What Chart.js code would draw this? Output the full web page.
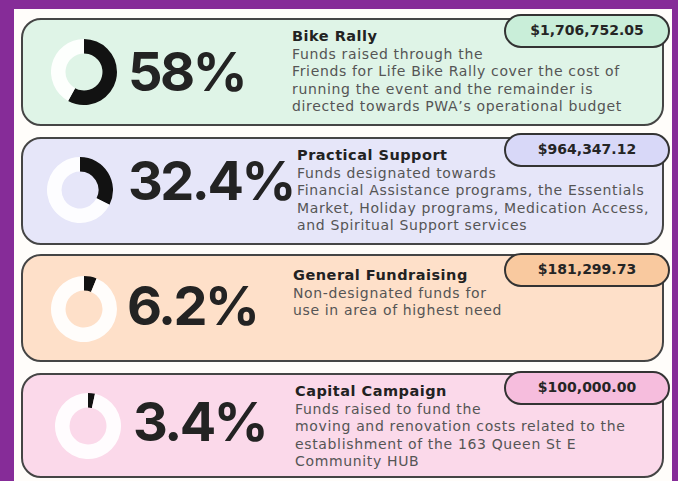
<!DOCTYPE html>
<html>
<head>
<meta charset="utf-8">
<script src="https://cdn.jsdelivr.net/npm/chart.js@4"></script>
<style>
  html, body { margin: 0; padding: 0; }
  body { width: 678px; height: 481px; background: #862c98; position: relative; overflow: hidden; }
  #sheet { position: absolute; left: 14px; top: 9px; width: 658px; height: 480px; background: #fffdfa; }
  .card { position: absolute; left: 21px; width: 639px; border: 2px solid #454545; border-radius: 20px; box-sizing: content-box; }
  .pill { position: absolute; left: 504px; width: 162px; height: 30px; border: 2px solid #333; border-radius: 17px;
          font: bold 14px "DejaVu Sans", sans-serif; color: #252525; text-align: center; line-height: 29px; }
  .pct { position: absolute; font: bold 54px Inter, sans-serif; color: #232323; letter-spacing: -2.5px; line-height: 1; }
  .txt { position: absolute; font: 14px "DejaVu Sans", sans-serif; color: #555; line-height: 17.5px; white-space: nowrap;
         letter-spacing: 0.65px; }
  .txt b { color: #222; font-size: 14.5px; letter-spacing: 0.5px; }
  canvas { position: absolute; }
</style>
</head>
<body>
<div id="sheet"></div>
<script>
// data
const categories = ['Bike Rally', 'Practical Support', 'General Fundraising', 'Capital Campaign'];
const shares = [58, 32.4, 6.2, 3.4];
const amounts = ['$1,706,752.05', '$964,347.12', '$181,299.73', '$100,000.00'];
const descriptions = [
  ['Funds raised through the', 'Friends for Life Bike Rally cover the cost of', 'running the event and the remainder is', 'directed towards PWA\u2019s operational budget'],
  ['Funds designated towards', 'Financial Assistance programs, the Essentials', 'Market, Holiday programs, Medication Access,', 'and Spiritual Support services'],
  ['Non-designated funds for', 'use in area of highest need'],
  ['Funds raised to fund the', 'moving and renovation costs related to the', 'establishment of the 163 Queen St E', 'Community HUB']
];

// layout / styling
const cardBg = ['#dff4e7', '#e6e6f9', '#fee0c9', '#fbd9ea'];
const pillBg = ['#c9eed9', '#d8d8f8', '#f9c99f', '#f6bddd'];
const cardTop = [18, 137, 254, 373];
const cardH = [104, 104, 104, 101];
const pillTop = [14, 133, 253, 371];
const pctPos = [[128, 45], [128, 154], [127, 279], [133, 395]];
const txtPos = [[292, 28], [297, 147], [293, 267], [295, 383]];
const donutCenter = [[83.5, 71.5], [80, 190], [83.5, 308.5], [88, 426]];
const R = 33;

categories.forEach((cat, i) => {
  const card = document.createElement('div');
  card.className = 'card';
  card.style.top = cardTop[i] + 'px';
  card.style.height = cardH[i] + 'px';
  card.style.background = cardBg[i];
  document.body.appendChild(card);

  const pct = document.createElement('div');
  pct.className = 'pct';
  pct.style.left = pctPos[i][0] + 'px';
  pct.style.top = pctPos[i][1] + 'px';
  pct.textContent = shares[i] + '%';
  document.body.appendChild(pct);

  const txt = document.createElement('div');
  txt.className = 'txt';
  txt.style.left = txtPos[i][0] + 'px';
  txt.style.top = txtPos[i][1] + 'px';
  txt.innerHTML = '<b>' + cat + '</b><br>' + descriptions[i].join('<br>');
  document.body.appendChild(txt);

  const pill = document.createElement('div');
  pill.className = 'pill';
  pill.style.top = pillTop[i] + 'px';
  pill.style.background = pillBg[i];
  pill.textContent = amounts[i];
  document.body.appendChild(pill);

  const cv = document.createElement('canvas');
  cv.width = R * 2; cv.height = R * 2;
  cv.style.left = (donutCenter[i][0] - R) + 'px';
  cv.style.top = (donutCenter[i][1] - R) + 'px';
  document.body.appendChild(cv);

  new Chart(cv.getContext('2d'), {
    type: 'doughnut',
    data: {
      labels: [cat, 'Other'],
      datasets: [{
        data: [shares[i], 100 - shares[i]],
        backgroundColor: ['#121212', 'rgba(255,255,255,0.92)'],
        borderWidth: 0
      }]
    },
    options: {
      responsive: false,
      animation: false,
      cutout: '56%',
      layout: { padding: 0 },
      plugins: { legend: { display: false }, tooltip: { enabled: false } }
    }
  });
});
</script>
</body>
</html>
